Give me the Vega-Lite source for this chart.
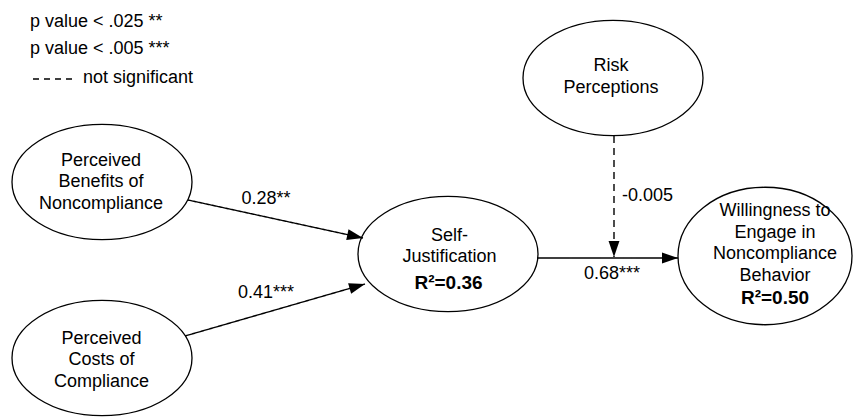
{
  "$schema": "https://vega.github.io/schema/vega-lite/v6.json",
  "width": 854,
  "height": 419,
  "autosize": "none",
  "padding": 0,
  "background": "white",
  "config": {
    "view": {"stroke": null},
    "text": {"font": "Liberation Sans", "fontSize": 18, "color": "black"}
  },
  "datasets": {
    "nodes": [
      {"id": "benefits", "x": 102, "y": 182},
      {"id": "costs", "x": 102, "y": 358},
      {"id": "selfjust", "x": 448, "y": 254},
      {"id": "risk", "x": 613, "y": 78},
      {"id": "willing", "x": 765, "y": 256}
    ],
    "edges": [
      {"id": "b", "x": 188, "y": 200, "x2": 363, "y2": 238, "sig": "yes"},
      {"id": "c", "x": 185, "y": 336, "x2": 365, "y2": 284, "sig": "yes"},
      {"id": "s", "x": 537, "y": 258, "x2": 678, "y2": 258, "sig": "yes"},
      {"id": "r", "x": 614, "y": 136, "x2": 614, "y2": 257, "sig": "no"}
    ],
    "labels": [
      {"text": "Perceived\nBenefits of\nNoncompliance", "x": 101, "y": 160.5, "kind": "node"},
      {"text": "Perceived\nCosts of\nCompliance", "x": 101.5, "y": 338.5, "kind": "node"},
      {"text": "Self-\nJustification", "x": 449.5, "y": 235.5, "kind": "node"},
      {"text": "Risk\nPerceptions", "x": 611, "y": 66, "kind": "node"},
      {"text": "Willingness to\nEngage in\nNoncompliance\nBehavior", "x": 775, "y": 211, "kind": "node"},
      {"text": "R²=0.36", "x": 448.5, "y": 283, "kind": "r2"},
      {"text": "R²=0.50", "x": 775, "y": 298, "kind": "r2"},
      {"text": "0.28**", "x": 266, "y": 199, "kind": "coef"},
      {"text": "0.41***", "x": 266, "y": 293, "kind": "coef"},
      {"text": "0.68***", "x": 612, "y": 274, "kind": "coef"},
      {"text": "-0.005", "x": 622, "y": 196, "kind": "left"},
      {"text": "p value < .025 **", "x": 30, "y": 22, "kind": "left"},
      {"text": "p value < .005 ***", "x": 30, "y": 49, "kind": "left"},
      {"text": "not significant", "x": 83, "y": 78, "kind": "left"}
    ]
  },
  "encoding": {
    "x": {"field": "x", "type": "quantitative", "scale": {"domain": [0, 854], "nice": false, "zero": false}, "axis": null},
    "y": {"field": "y", "type": "quantitative", "scale": {"domain": [0, 419], "reverse": true, "nice": false, "zero": false}, "axis": null}
  },
  "layer": [
    {
      "data": {"name": "nodes"},
      "transform": [{"filter": "datum.id != 'willing'"}],
      "mark": {"type": "point", "shape": "M1,0C1,0.3535,0.5523,0.64,0,0.64C-0.5523,0.64,-1,0.3535,-1,0C-1,-0.3535,-0.5523,-0.64,0,-0.64C0.5523,-0.64,1,-0.3535,1,0Z", "size": 32400, "filled": true, "fill": "white", "stroke": "black", "strokeWidth": 1.3, "opacity": 1}
    },
    {
      "data": {"name": "nodes"},
      "transform": [{"filter": "datum.id == 'willing'"}],
      "mark": {"type": "point", "shape": "M1,0C1,0.4363,0.5523,0.79,0,0.79C-0.5523,0.79,-1,0.4363,-1,0C-1,-0.4363,-0.5523,-0.79,0,-0.79C0.5523,-0.79,1,-0.4363,1,0Z", "size": 30276, "filled": true, "fill": "white", "stroke": "black", "strokeWidth": 1.3, "opacity": 1}
    },
    {
      "data": {"name": "edges"},
      "mark": {"type": "rule", "color": "black", "strokeWidth": 1.4},
      "encoding": {
        "x2": {"field": "x2"},
        "y2": {"field": "y2"},
        "strokeDash": {"field": "sig", "type": "nominal", "scale": {"domain": ["yes", "no"], "range": [[1, 0], [7, 5]]}, "legend": null}
      }
    },
    {
      "data": {"name": "edges"},
      "transform": [{"filter": "datum.id == 'b'"}],
      "mark": {"type": "point", "shape": "M0,0L-0.34,1L0.34,1Z", "size": 1024, "filled": true, "fill": "black", "strokeWidth": 0, "opacity": 1, "angle": 102.25},
      "encoding": {
        "x": {"field": "x2", "type": "quantitative", "scale": {"domain": [0, 854], "nice": false, "zero": false}, "axis": null},
        "y": {"field": "y2", "type": "quantitative", "scale": {"domain": [0, 419], "reverse": true, "nice": false, "zero": false}, "axis": null}
      }
    },
    {
      "data": {"name": "edges"},
      "transform": [{"filter": "datum.id == 'c'"}],
      "mark": {"type": "point", "shape": "M0,0L-0.34,1L0.34,1Z", "size": 1024, "filled": true, "fill": "black", "strokeWidth": 0, "opacity": 1, "angle": 73.9},
      "encoding": {
        "x": {"field": "x2", "type": "quantitative", "scale": {"domain": [0, 854], "nice": false, "zero": false}, "axis": null},
        "y": {"field": "y2", "type": "quantitative", "scale": {"domain": [0, 419], "reverse": true, "nice": false, "zero": false}, "axis": null}
      }
    },
    {
      "data": {"name": "edges"},
      "transform": [{"filter": "datum.id == 's'"}],
      "mark": {"type": "point", "shape": "M0,0L-0.34,1L0.34,1Z", "size": 1024, "filled": true, "fill": "black", "strokeWidth": 0, "opacity": 1, "angle": 90},
      "encoding": {
        "x": {"field": "x2", "type": "quantitative", "scale": {"domain": [0, 854], "nice": false, "zero": false}, "axis": null},
        "y": {"field": "y2", "type": "quantitative", "scale": {"domain": [0, 419], "reverse": true, "nice": false, "zero": false}, "axis": null}
      }
    },
    {
      "data": {"name": "edges"},
      "transform": [{"filter": "datum.id == 'r'"}],
      "mark": {"type": "point", "shape": "M0,0L-0.34,1L0.34,1Z", "size": 1024, "filled": true, "fill": "black", "strokeWidth": 0, "opacity": 1, "angle": 180},
      "encoding": {
        "x": {"field": "x2", "type": "quantitative", "scale": {"domain": [0, 854], "nice": false, "zero": false}, "axis": null},
        "y": {"field": "y2", "type": "quantitative", "scale": {"domain": [0, 419], "reverse": true, "nice": false, "zero": false}, "axis": null}
      }
    },
    {
      "data": {"values": [{"x": 33, "y": 79, "x2": 72, "y2": 79}]},
      "mark": {"type": "rule", "color": "black", "strokeWidth": 1.4, "strokeDash": [6, 5]},
      "encoding": {"x2": {"field": "x2"}, "y2": {"field": "y2"}}
    },
    {
      "data": {"name": "labels"},
      "transform": [{"filter": "datum.kind == 'node' || datum.kind == 'coef'"}],
      "mark": {"type": "text", "align": "center", "baseline": "middle", "lineBreak": "\n", "lineHeight": 21.5},
      "encoding": {"text": {"field": "text"}}
    },
    {
      "data": {"name": "labels"},
      "transform": [{"filter": "datum.kind == 'left'"}],
      "mark": {"type": "text", "align": "left", "baseline": "middle"},
      "encoding": {"text": {"field": "text"}}
    },
    {
      "data": {"name": "labels"},
      "transform": [{"filter": "datum.kind == 'r2'"}],
      "mark": {"type": "text", "align": "center", "baseline": "middle", "fontWeight": "bold", "fontSize": 19},
      "encoding": {"text": {"field": "text"}}
    }
  ]
}
